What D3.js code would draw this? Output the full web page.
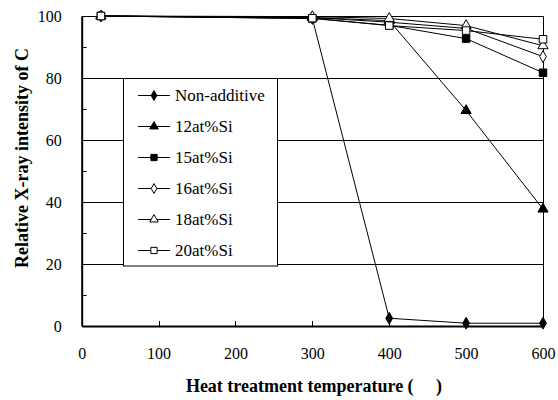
<!DOCTYPE html>
<html><head><meta charset="utf-8">
<script src="https://d3js.org/d3.v7.min.js"></script>
<style>body{margin:0;background:#fff}svg{display:block}
svg text{font-family:"Liberation Serif","Times New Roman",Times,"DejaVu Serif",serif !important}</style>
</head><body>
<script>
const temps = [25, 300, 400, 500, 600];
const seriesNames = ["Non-additive", "12at%Si", "15at%Si", "16at%Si", "18at%Si", "20at%Si"];
const nonAdditive = [100, 99.2, 2.5, 0.9, 0.9];
const si12 = [100, 99.5, 98.5, 69.5, 37.7];
const si15 = [100, 99.2, 97.0, 92.7, 81.7];
const si16 = [100, 99.5, 98.0, 96.0, 86.9];
const si18 = [100, 99.8, 99.2, 96.9, 90.4];
const si20 = [100, 99.3, 96.9, 95.3, 92.5];
const xTicks = [0, 100, 200, 300, 400, 500, 600];
const yTicks = [0, 20, 40, 60, 80, 100];
const yMinor = [10, 30, 50, 70, 90];

const W = 558, H = 400;
const m = {left: 81.7, right: 543, top: 16, bottom: 326};
const svg = d3.select("body").append("svg").attr("width", W).attr("height", H);
const x = d3.scaleLinear().domain([0, 600]).range([m.left, m.right]);
const y = d3.scaleLinear().domain([0, 100]).range([m.bottom, m.top]);

// gridlines
svg.append("g").selectAll("line").data([20, 40, 60, 80]).join("line")
  .attr("x1", m.left).attr("x2", m.right)
  .attr("y1", d => Math.round(y(d)) + 0.5).attr("y2", d => Math.round(y(d)) + 0.5)
  .attr("stroke", "#000").attr("stroke-width", 1);

// frame (top & right)
svg.append("path")
  .attr("d", `M${m.left},${m.top + 0.5}H${m.right + 0.5}V${m.bottom}`)
  .attr("fill", "none").attr("stroke", "#000").attr("stroke-width", 1);

// axes
const xAxis = d3.axisBottom(x).tickValues(xTicks).tickSize(0).tickPadding(22);
const gx = svg.append("g").attr("transform", `translate(0,${m.bottom})`).call(xAxis);
gx.attr("font-family", null);
gx.select(".domain").attr("stroke-width", 2);
gx.selectAll("text").attr("font-size", 16).attr("fill", "#000");
svg.append("g").selectAll("line").data(xTicks.slice(1, -1)).join("line")
  .attr("x1", d => Math.round(x(d)) + 0.5).attr("x2", d => Math.round(x(d)) + 0.5)
  .attr("y1", m.bottom).attr("y2", m.bottom - 5).attr("stroke", "#000");

const yAxis = d3.axisLeft(y).tickValues(yTicks).tickSize(0).tickPadding(20);
const gy = svg.append("g").attr("transform", `translate(${m.left},0)`).call(yAxis);
gy.attr("font-family", null);
gy.select(".domain").attr("stroke-width", 2);
gy.selectAll("text").attr("font-size", 16).attr("fill", "#000");
svg.append("g").selectAll("line").data(yMinor).join("line")
  .attr("x1", m.left).attr("x2", m.left + 5)
  .attr("y1", d => Math.round(y(d)) + 0.5).attr("y2", d => Math.round(y(d)) + 0.5)
  .attr("stroke", "#000");

// titles
svg.append("text").attr("x", 314).attr("y", 392).attr("text-anchor", "middle")
  .attr("font-size", 18).attr("font-weight", "bold")
  .text("Heat treatment temperature (\u00a0\u00a0\u00a0\u00a0\u00a0)");
svg.append("text").attr("transform", "translate(28,158) rotate(-90)").attr("text-anchor", "middle")
  .attr("font-size", 18).attr("font-weight", "bold")
  .text("Relative X-ray intensity of C");

// series
const series = [
  {name: seriesNames[0], vals: nonAdditive, sym: d3.symbolDiamond, size: 40, fill: "#000"},
  {name: seriesNames[1], vals: si12, sym: d3.symbolTriangle, size: 45, fill: "#000"},
  {name: seriesNames[2], vals: si15, sym: d3.symbolSquare, size: 56, fill: "#000"},
  {name: seriesNames[3], vals: si16, sym: d3.symbolDiamond, size: 40, fill: "#fff"},
  {name: seriesNames[4], vals: si18, sym: d3.symbolTriangle, size: 45, fill: "#fff"},
  {name: seriesNames[5], vals: si20, sym: d3.symbolSquare, size: 56, fill: "#fff"}
];
const line = d3.line().x((d, i) => x(temps[i])).y(d => y(d));
const gs = svg.append("g");
series.forEach(s => {
  gs.append("path").attr("d", line(s.vals)).attr("fill", "none").attr("stroke", "#000").attr("stroke-width", 1);
});
series.forEach(s => {
  gs.append("g").selectAll("path").data(s.vals).join("path")
    .attr("transform", (d, i) => `translate(${x(temps[i])},${y(d)})`)
    .attr("d", d3.symbol(s.sym, s.size)())
    .attr("fill", s.fill).attr("stroke", "#000").attr("stroke-width", 1);
});

// legend
const lg = svg.append("g");
lg.append("rect").attr("x", 123.5).attr("y", 78.5).attr("width", 154).attr("height", 187.5)
  .attr("fill", "#fff").attr("stroke", "#000").attr("stroke-width", 1);
series.forEach((s, i) => {
  const cy = 95 + i * 31;
  lg.append("line").attr("x1", 138).attr("x2", 170).attr("y1", cy + 0.5).attr("y2", cy + 0.5).attr("stroke", "#000");
  lg.append("path").attr("transform", `translate(154,${cy + 0.5})`)
    .attr("d", d3.symbol(s.sym, s.size * 0.7)()).attr("fill", s.fill).attr("stroke", "#000");
  lg.append("text").attr("x", 175).attr("y", cy + 6).attr("font-size", 17)
    .text(s.name);
});
</script>
</body></html>
